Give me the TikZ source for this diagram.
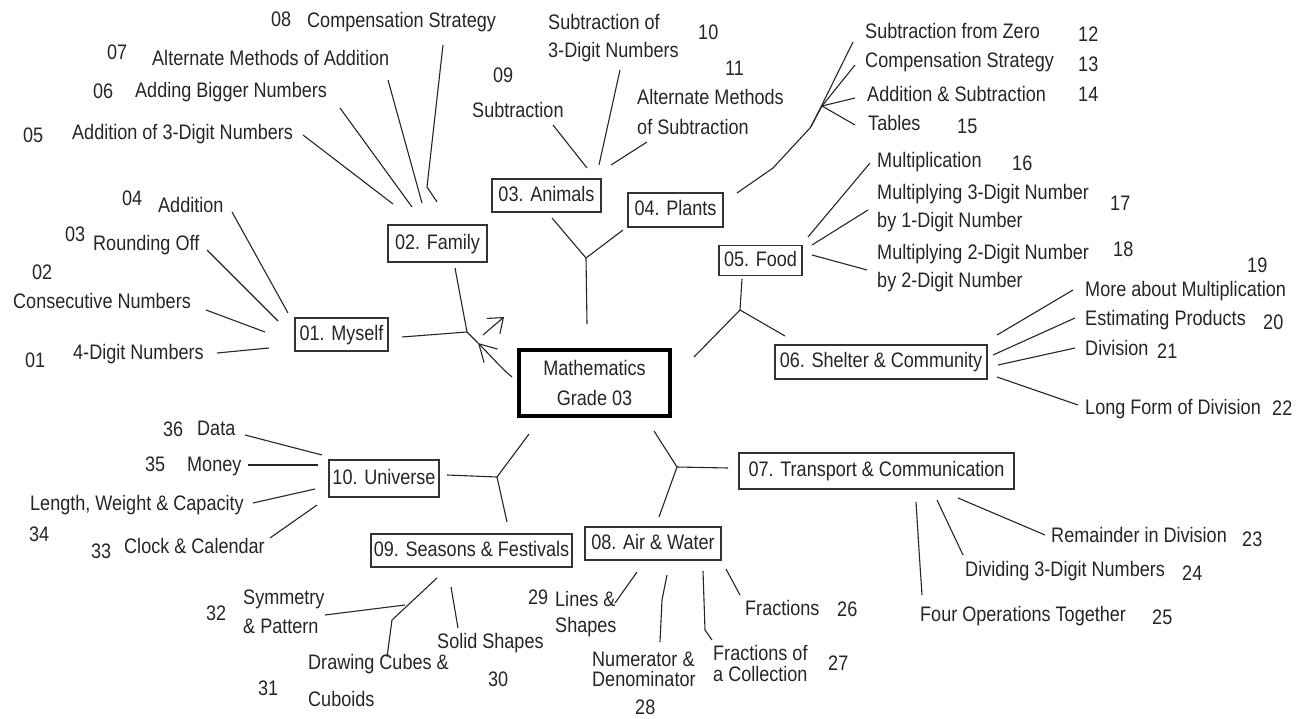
\documentclass[tikz,border=0pt]{standalone}
\usepackage{fontspec}
\setmainfont[FakeStretch=0.86]{Liberation Sans}
\usetikzlibrary{arrows.meta}
\newcommand\lf{\fontsize{21}{24}\selectfont}
\begin{document}
\begin{tikzpicture}[x=1pt,y=-1pt,
  conn/.style={line width=1.1pt, black!85},
  box/.style={draw=black!80, line width=1.4pt, inner sep=0pt, font=\lf, text=black!85, text height=15.5pt, text depth=4pt},
  lab/.style={inner sep=0pt, anchor=west, font=\lf, text=black!85, text height=15.5pt, text depth=4pt},
  labb/.style={inner sep=0pt, anchor=west, align=left, text=black!85}]
\useasboundingbox[fill=white] (0,0) rectangle (1311,719);

% ---------- boxes ----------
\node[draw=black, line width=4pt, minimum width=151pt, minimum height=66pt, inner sep=0pt, align=center, text=black!85, font=\fontsize{21}{30}\selectfont] (math) at (594.5,383) {Mathematics\\Grade 03};
\node[box, minimum width=93pt,  minimum height=33pt] (myself)    at (341.5,334.5) {01. Myself};
\node[box, minimum width=99pt,  minimum height=37pt] (family)    at (437.5,243.5) {02. Family};
\node[box, minimum width=109pt, minimum height=33pt] (animals)   at (546.5,195.5) {03. Animals};
\node[box, minimum width=95pt,  minimum height=34pt] (plants)    at (675.5,210)   {04. Plants};
\node[box, minimum width=83pt,  minimum height=30pt] (food)      at (760.5,260.5) {05. Food};
\node[box, minimum width=212pt, minimum height=34pt] (shelter)   at (881,362)     {06. Shelter \& Community};
\node[box, minimum width=275pt, minimum height=36pt] (transport) at (876.5,471)   {07. Transport \& Communication};
\node[box, minimum width=136pt, minimum height=33pt] (air)       at (653,543.5)   {08. Air \& Water};
\node[box, minimum width=201pt, minimum height=33pt] (seasons)   at (471.5,550.5) {09. Seasons \& Festivals};
\node[box, minimum width=110pt, minimum height=37pt] (universe)  at (384,478.5)   {10. Universe};

% ---------- labels ----------
% Myself
\node[lab] (n04) at (122,200) {04};
\node[lab] (t04) at (158,207) {Addition};
\node[lab] (n03) at (65,236) {03};
\node[lab] (t03) at (93,245) {Rounding Off};
\node[lab] (n02) at (32,274) {02};
\node[lab] (t02) at (13,303) {Consecutive Numbers};
\node[lab] (n01) at (25,362) {01};
\node[lab] (t01) at (73,354) {4-Digit Numbers};
% Family
\node[lab] (n08) at (271,21) {08};
\node[lab] (t08) at (307,22) {Compensation Strategy};
\node[lab] (n07) at (107,54) {07};
\node[lab] (t07) at (152,60) {Alternate Methods of Addition};
\node[lab] (n06) at (93,93) {06};
\node[lab] (t06) at (135,92) {Adding Bigger Numbers};
\node[lab] (n05) at (23,137) {05};
\node[lab] (t05) at (72,134) {Addition of 3-Digit Numbers};
% Animals
\node[lab] (n09) at (493,77) {09};
\node[lab] (t09) at (472,112) {Subtraction};
\node[labb, font=\fontsize{21}{28}\selectfont] (t10) at (548,38) {Subtraction of\\3-Digit Numbers};
\node[lab] (n10) at (698,34) {10};
\node[labb, font=\fontsize{21}{30}\selectfont] (t11) at (637,112) {Alternate Methods\\of Subtraction};
\node[lab] (n11) at (725,70) {11};
% Plants
\node[lab] (t12) at (865,33) {Subtraction from Zero};
\node[lab] (n12) at (1078,36) {12};
\node[lab] (t13) at (865,62) {Compensation Strategy};
\node[lab] (n13) at (1078,66) {13};
\node[lab] (t14) at (867,96) {Addition \& Subtraction};
\node[lab] (n14) at (1078,96) {14};
\node[lab] (t15) at (868,125) {Tables};
\node[lab] (n15) at (957,128) {15};
% Food
\node[lab] (t16) at (877,162) {Multiplication};
\node[lab] (n16) at (1012,165) {16};
\node[labb, font=\fontsize{21}{28}\selectfont] (t17) at (877,208) {Multiplying 3-Digit Number\\by 1-Digit Number};
\node[lab] (n17) at (1110,205) {17};
\node[labb, font=\fontsize{21}{28}\selectfont] (t18) at (877,268) {Multiplying 2-Digit Number\\by 2-Digit Number};
\node[lab] (n18) at (1113,251) {18};
% Shelter
\node[lab] (t19) at (1085,291) {More about Multiplication};
\node[lab] (n19) at (1247,267) {19};
\node[lab] (t20) at (1085,320) {Estimating Products};
\node[lab] (n20) at (1263,324) {20};
\node[lab] (t21) at (1085,350) {Division};
\node[lab] (n21) at (1157,353) {21};
\node[lab] (t22) at (1085,409) {Long Form of Division};
\node[lab] (n22) at (1272,410) {22};
% Transport
\node[lab] (t23) at (1051,537) {Remainder in Division};
\node[lab] (n23) at (1242,541) {23};
\node[lab] (t24) at (965,571) {Dividing 3-Digit Numbers};
\node[lab] (n24) at (1182,575) {24};
\node[lab] (t25) at (920,616) {Four Operations Together};
\node[lab] (n25) at (1152,619) {25};
% Air & Water
\node[lab] (t26) at (745,610) {Fractions};
\node[lab] (n26) at (837,611) {26};
\node[labb, font=\fontsize{21}{21}\selectfont] (t27) at (713,663) {Fractions of\\a Collection};
\node[lab] (n27) at (828,665) {27};
\node[labb, font=\fontsize{21}{20}\selectfont] (t28) at (592,669) {Numerator \&\\Denominator};
\node[lab] (n28) at (635,709) {28};
\node[labb, font=\fontsize{21}{26}\selectfont] (t29) at (555,614) {Lines \&\\Shapes};
\node[lab] (n29) at (528,599) {29};
% Seasons
\node[lab] (t30) at (437,643) {Solid Shapes};
\node[lab] (n30) at (488,681) {30};
\node[labb, font=\fontsize{21}{37}\selectfont] (t31) at (308,680) {Drawing Cubes \&\\Cuboids};
\node[lab] (n31) at (258,690) {31};
\node[labb, font=\fontsize{21}{29}\selectfont] (t32) at (243,612) {Symmetry\\\& Pattern};
\node[lab] (n32) at (206,615) {32};
% Universe
\node[lab] (t33) at (124,548) {Clock \& Calendar};
\node[lab] (n33) at (91,553) {33};
\node[lab] (t34) at (30,505) {Length, Weight \& Capacity};
\node[lab] (n34) at (29,536) {34};
\node[lab] (t35) at (187,466) {Money};
\node[lab] (n35) at (145,466) {35};
\node[lab] (t36) at (197,430) {Data};
\node[lab] (n36) at (163,431) {36};

% ---------- junctions ----------
\coordinate (j1) at (467,332);
\coordinate (j2) at (478,343);
\coordinate (j3) at (586,258);
\coordinate (j4) at (822,106);
\coordinate (j5) at (740,310);
\coordinate (j6) at (677,467);
\coordinate (j7) at (497,477);

% ---------- connectors ----------
% Myself leaders
\draw[conn] (232,212) -- (288,313);
\draw[conn] (207,250) -- (278,321);
\draw[conn] (206,310) -- (265,332);
\draw[conn] (217,353) -- (269,348);
% Family leaders
\draw[conn] (443,45) -- (427,187) -- (437,202);
\draw[conn] (388,80) -- (422,203);
\draw[conn] (340,108) -- (412,207);
\draw[conn] (303,135) -- (393,204);
% Myself / Family to centre
\draw[conn] (402,337) -- (j1);
\draw[conn] (455,268) -- (j1) -- (j2);
\draw[conn, -{Straight Barb[length=17pt,width=19pt]}] (512,377) .. controls (501,368) and (490,355) .. (j2);
\draw[conn, -{Straight Barb[length=13pt,width=20pt]}] (483,335) -- (504,317);
% Animals leaders
\draw[conn] (553,125) -- (587,168);
\draw[conn] (620,70) -- (599,165);
\draw[conn] (647,142) -- (611,165);
% Animals / Plants to centre
\draw[conn] (552,218) -- (j3);
\draw[conn] (623,230) -- (j3);
\draw[conn] (j3) -- (587,324);
% Plants fan
\draw[conn] (737,193) -- (773,168) -- (810,128) -- (j4);
\draw[conn] (811,127) -- (853,42);
\draw[conn] (j4) -- (855,65);
\draw[conn] (j4) -- (855,98);
\draw[conn] (j4) -- (855,125);
% Food leaders
\draw[conn] (808,237) -- (870,163);
\draw[conn] (812,245) -- (868,210);
\draw[conn] (812,255) -- (867,270);
% Food / Shelter to centre
\draw[conn] (742,279) -- (j5);
\draw[conn] (j5) -- (785,336);
\draw[conn] (j5) -- (694,357);
% Shelter leaders
\draw[conn] (997,335) -- (1073,290);
\draw[conn] (993,355) -- (1075,318);
\draw[conn] (998,365) -- (1075,348);
\draw[conn] (997,377) -- (1078,405);
% Transport / Air to centre
\draw[conn] (654,431) -- (j6) -- (728,468);
\draw[conn] (j6) -- (659,517);
% Transport leaders
\draw[conn] (958,498) -- (1045,535);
\draw[conn] (937,500) -- (963,555);
\draw[conn] (916,502) -- (919,550) -- (922,595);
% Air leaders
\draw[conn] (637,572) -- (615,603);
\draw[conn] (667,575) -- (662,600) -- (660,642);
\draw[conn] (703,571) -- (705,630) -- (712,640);
\draw[conn] (726,569) -- (740,595);
% Universe / Seasons to centre
\draw[conn] (529,434) -- (j7);
\draw[conn] (447,475) -- (j7);
\draw[conn] (j7) -- (507,522);
% Seasons leaders
\draw[conn] (325,615) -- (405,605);
\draw[conn] (387,657) -- (392,620) -- (437,578);
\draw[conn] (451,587) -- (458,628);
% Universe leaders
\draw[conn] (245,435) -- (322,455);
\draw[conn] (248,465) -- (318,465);
\draw[conn] (253,503) -- (315,489);
\draw[conn] (270,538) -- (317,505);
\end{tikzpicture}
\end{document}
